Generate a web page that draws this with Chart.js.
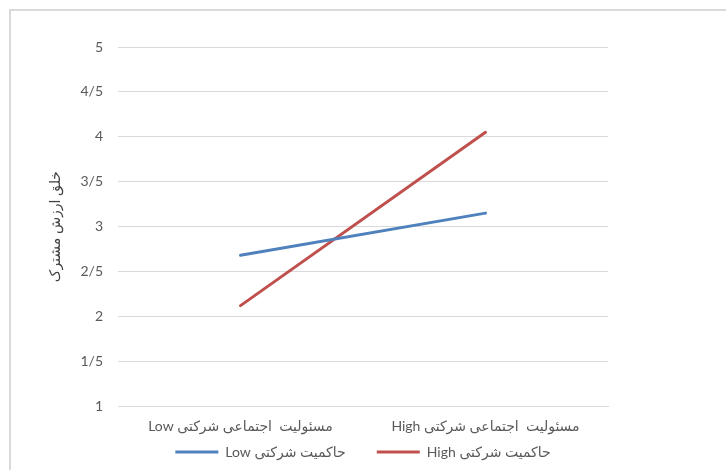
<!DOCTYPE html>
<html lang="fa">
<head>
    <meta charset="UTF-8">
    <title>خلق ارزش مشترک</title>
    <script src="https://cdn.jsdelivr.net/npm/chart.js"></script>
    <style>
        * {
            margin: 0;
            padding: 0;
            box-sizing: border-box;
        }

        body {
            background: #fff;
            width: 726px;
            height: 470px;
            overflow: hidden;
            position: relative;
        }

        /* frame of the chart object, only left and top edges are visible */
        .frame {
            position: absolute;
            left: 9px;
            top: 9px;
            width: 800px;
            height: 600px;
            border-left: 2px solid #d9d9d9;
            border-top: 2px solid #d9d9d9;
        }

        .chart-box {
            position: absolute;
            left: 0;
            top: 0;
            width: 726px;
            height: 470px;
        }

        canvas {
            direction: rtl;
        }
    </style>
</head>
<body>

    <div class="frame"></div>
    <div class="chart-box">
        <canvas id="chart"></canvas>
    </div>

    <script>
        // data
        const categories = ['مسئولیت  اجتماعی شرکتی Low', 'مسئولیت  اجتماعی شرکتی High'];
        const seriesNames = ['حاکمیت شرکتی Low', 'حاکمیت شرکتی High'];
        const lowGovernance = [2.68, 3.15];
        const highGovernance = [2.12, 4.05];
        const yTicks = [1, 1.5, 2, 2.5, 3, 3.5, 4, 4.5, 5];
        const yTickLabels = ['1', '1/5', '2', '2/5', '3', '3/5', '4', '4/5', '5'];
        const yTitle = 'خلق ارزش مشترک';
        const colors = ['#4F81BD', '#C0504D'];

        const font = "Lato, 'DejaVu Sans', sans-serif";

        function series(i, values) {
            return {
                label: seriesNames[i],
                data: values,
                borderColor: colors[i],
                backgroundColor: colors[i],
                pointBorderColor: colors[i],
                pointBackgroundColor: colors[i],
                pointBorderWidth: 3
            };
        }

        new Chart(document.getElementById('chart'), {
            type: 'line',
            data: {
                labels: categories,
                datasets: [series(0, lowGovernance), series(1, highGovernance)]
            },
            options: {
                responsive: true,
                maintainAspectRatio: false,
                animation: false,
                elements: {
                    line: { borderWidth: 3, tension: 0, borderCapStyle: 'round' },
                    point: { radius: 0, hoverRadius: 0 }
                },
                layout: { padding: { left: 0, right: 0, top: 47, bottom: 1 } },
                scales: {
                    x: {
                        offset: true,
                        grid: { display: false },
                        border: { display: true, color: '#d9d9d9', width: 1 },
                        ticks: { color: '#595959', font: { family: font, size: 14 }, maxRotation: 0, padding: 4 }
                    },
                    y: {
                        min: 1,
                        max: 5,
                        afterBuildTicks: axis => { axis.ticks = yTicks.map(v => ({ value: v })); },
                        afterFit: axis => { axis.width = 118; },
                        grid: { color: '#d9d9d9', drawTicks: false },
                        border: { display: false },
                        ticks: {
                            color: '#595959',
                            font: { family: font, size: 14 },
                            padding: 15,
                            callback: v => yTickLabels[yTicks.indexOf(v)]
                        },
                        title: {
                            display: true,
                            text: yTitle,
                            color: '#404040',
                            font: { family: font, size: 14 },
                            padding: { top: 47, bottom: 2 }
                        }
                    },
                    // empty right-hand axis that only keeps the plot away from the right edge
                    yRight: {
                        position: 'right',
                        afterFit: axis => { axis.width = 118; },
                        grid: { display: false },
                        border: { display: false },
                        ticks: { display: false }
                    }
                },
                plugins: {
                    legend: {
                        position: 'bottom',
                        labels: {
                            usePointStyle: true,
                            pointStyle: 'line',
                            pointStyleWidth: 43,
                            color: '#595959',
                            font: { family: font, size: 14 },
                            padding: 6,
                            // wider gap between the two entries (leading spaces sit on the right in rtl text)
                            generateLabels: chart => {
                                const items = Chart.defaults.plugins.legend.labels.generateLabels(chart);
                                items.forEach((item, i) => {
                                    if (i < items.length - 1) item.text = '\u00A0'.repeat(7) + item.text;
                                });
                                return items;
                            }
                        }
                    },
                    tooltip: { enabled: false }
                }
            }
        });
    </script>

</body>
</html>
